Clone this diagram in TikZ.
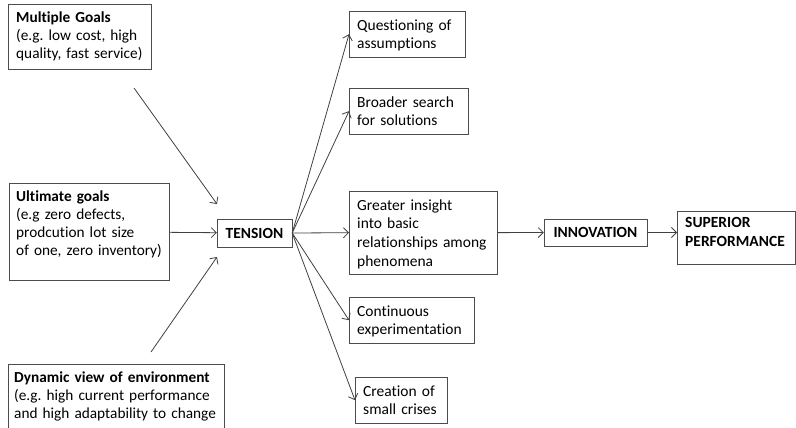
\documentclass[tikz,border=0pt]{standalone}
\usepackage{fontspec}
\setmainfont{Carlito}[Ligatures=NoCommon]
\usetikzlibrary{arrows.meta}
\frenchspacing

\begin{document}
\begin{tikzpicture}[x=1pt, y=-1pt,
  Box/.style={draw=black!70, fill=white, anchor=north west, align=left, inner xsep=8pt, inner ysep=3pt, text height=15.5pt},
  Small/.style={font=\fontsize{15.3}{17.8}\selectfont},
  Big/.style={font=\fontsize{15.5}{18.7}\selectfont, text height=16pt},
  Tag/.style={draw=black!70, fill=white, font=\fontsize{15.5}{18.7}\selectfont\bfseries, inner sep=0pt},
  Arrow/.style={-{Straight Barb[length=5pt, width=10pt]}, draw=black!75, line width=0.8pt}]

\useasboundingbox (0,0) rectangle (796,428);

\node [Box, Small, text width=127pt, text depth=43.5pt] (multi) at (8,4) {\textbf{Multiple Goals}\\(e.g. low cost, high\\quality, fast service)};
\node [Box, Small, text width=146pt, text depth=75.5pt, inner xsep=7pt] (ultimate) at (9,183) {\textbf{Ultimate goals}\\(e.g zero defects,\\prodcution lot size\\\mbox{of one, zero inventory)}};
\node [Box, Small, text width=204pt, text depth=48pt, inner xsep=6pt] (dynamic) at (8,364) {\textbf{Dynamic view of environment}\\(e.g. high current performance\\\mbox{and high adaptability to change}};

\node [Tag, minimum width=75pt, minimum height=28pt] (tension) at (254.5,233) {TENSION};

\node [Box, Big, text width=100pt, text depth=24pt] (quest) at (349,11) {Questioning of\\assumptions};
\node [Box, Big, text width=103pt, text depth=24pt] (broad) at (349,88) {Broader search\\for solutions};
\node [Box, Big, text width=132pt, text depth=61pt] (insight) at (349,191) {Greater insight\\into basic\\relationships among\\phenomena};
\node [Box, Big, text width=109pt, text depth=24pt] (cont) at (349,297) {Continuous\\experimentation};
\node [Box, Big, text width=76pt, text depth=24pt] (crisis) at (355,377) {Creation of\\small crises};

\node [Tag, minimum width=103pt, minimum height=27pt] (innov) at (595.5,232.5) {INNOVATION};
\node [Box, Big, font=\fontsize{15.5}{19.3}\selectfont\bfseries, text width=102pt, text height=13pt, text depth=34pt] (superior) at (677,211) {SUPERIOR\\PERFORMANCE};

\coordinate (multitail) at (134,88);
\coordinate (multitip) at (217,204);
\coordinate (dyntail) at (151,352);
\coordinate (dyntip) at (217,257);

\draw [Arrow] (multitail) -- (multitip);
\draw [Arrow] (ultimate) -- (tension);
\draw [Arrow] (dyntail) -- (dyntip);

\foreach \name in {quest, broad, insight, cont, crisis} {
  \draw [Arrow] (tension.east) -- (\name.west);
}

\draw [Arrow] (insight) -- (innov);
\draw [Arrow] (innov.east) -- (innov.east -| superior.west);
\end{tikzpicture}
\end{document}
